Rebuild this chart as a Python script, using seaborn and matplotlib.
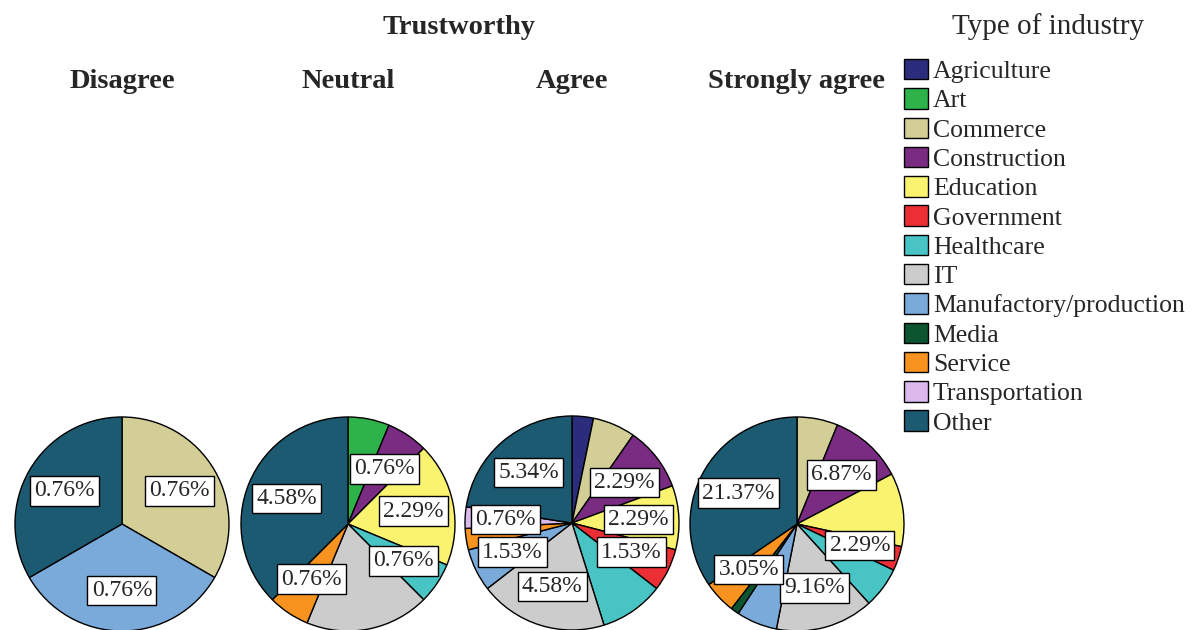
import pandas as pd
import matplotlib.pyplot as plt
import seaborn as sns
from matplotlib.patches import Patch

# industries in legend / wedge order
industries = ['Agriculture', 'Art', 'Commerce', 'Construction', 'Education',
              'Government', 'Healthcare', 'IT', 'Manufactory/production',
              'Media', 'Service', 'Transportation', 'Other']
industry_colors = ['#2b2d7c', '#2db34a', '#d3cd96', '#7a2b82', '#faf36f',
                   '#ec2f35', '#48c4c4', '#cccccc', '#7aaad9', '#0d5530',
                   '#f7931e', '#dcb9ec', '#1b5a71']

responses = ['Disagree', 'Neutral', 'Agree', 'Strongly agree']
n_respondents = 131

# respondent counts per industry
disagree = [0, 0, 1, 0, 0, 0, 0, 0, 1, 0, 0, 0, 1]
neutral = [0, 1, 0, 1, 3, 0, 1, 3, 0, 0, 1, 0, 6]
agree = [1, 0, 2, 3, 3, 2, 3, 6, 2, 0, 1, 1, 7]
strongly_agree = [0, 0, 5, 9, 9, 3, 5, 12, 5, 1, 4, 0, 28]

# wedges that show a percentage label
disagree_labels = ['Commerce', 'Manufactory/production', 'Other']
neutral_labels = ['Construction', 'Education', 'Healthcare', 'Service', 'Other']
agree_labels = ['Construction', 'Education', 'Government', 'IT',
                'Manufactory/production', 'Transportation', 'Other']
strongly_agree_labels = ['Construction', 'Government', 'IT', 'Service', 'Other']

counts = [disagree, neutral, agree, strongly_agree]
shown = [disagree_labels, neutral_labels, agree_labels, strongly_agree_labels]

sns.set_style('white')
plt.rcParams['font.family'] = ['Liberation Serif', 'DejaVu Serif']

fig = plt.figure(figsize=(11.95, 6.3), dpi=100)
W, H = 1195, 630
R = 107
centers = [(122, 524), (348, 524), (572, 523), (797, 524)]

color_map = dict(zip(industries, industry_colors))

for resp, vals, lab, (cx, cy) in zip(responses, counts, shown, centers):
    df = pd.DataFrame({'industry': industries, 'n': vals})
    df = df[df['n'] > 0]
    ax = fig.add_axes([(cx - R) / W, (H - cy - R) / H, 2 * R / W, 2 * R / H])
    texts = [f"{n / n_respondents * 100:.2f}%" if ind in lab else ''
             for ind, n in zip(df['industry'], df['n'])]
    wedges, label_texts = ax.pie(df['n'], colors=[color_map[i] for i in df['industry']],
                                 startangle=90, counterclock=False, labels=texts,
                                 labeldistance=0.62,
                                 wedgeprops=dict(edgecolor='black', linewidth=1),
                                 textprops=dict(fontsize=17))
    for t in label_texts:
        t.set_ha('center')
        t.set_va('center')
        if t.get_text():
            t.set_bbox(dict(facecolor='white', edgecolor='black', linewidth=1, pad=3))
    ax.set_xlim(-1, 1)
    ax.set_ylim(-1, 1)
    ax.set_aspect('equal')
    ax.axis('off')
    fig.text(cx / W, 1 - 82 / H, resp, ha='center', va='center',
             fontsize=20.5, fontweight='bold')

fig.text(459 / W, 1 - 27 / H, 'Trustworthy', ha='center', va='center',
         fontsize=20.5, fontweight='bold')
fig.text(1048 / W, 1 - 27 / H, 'Type of industry', ha='center', va='center',
         fontsize=21)

handles = [Patch(facecolor=c, edgecolor='black', linewidth=1) for c in industry_colors]
leg = fig.legend(handles, industries, loc='upper left', bbox_to_anchor=(904 / W, 1 - 59 / H),
                 frameon=False, fontsize=18.5,
                 handlelength=0.93, handleheight=0.85, handletextpad=0.2,
                 labelspacing=0.2, borderaxespad=0, borderpad=0)

fig.savefig('out.png', dpi=100)
